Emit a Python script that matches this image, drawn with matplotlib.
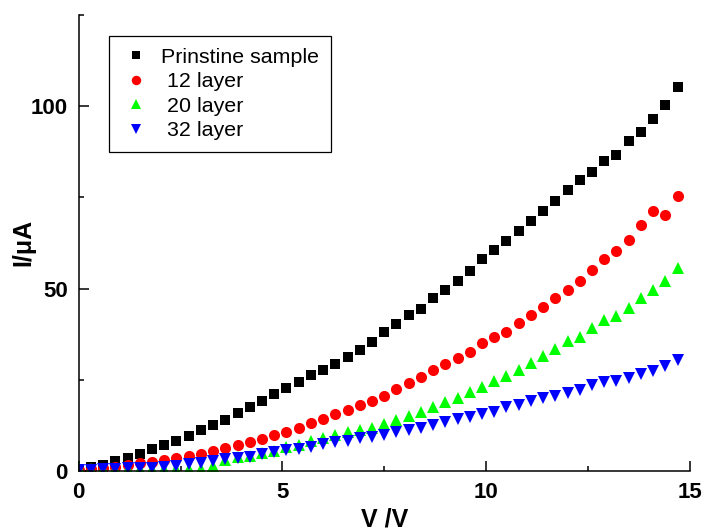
import numpy as np
import matplotlib
matplotlib.use('Agg')
import matplotlib.pyplot as plt
from matplotlib.ticker import MultipleLocator

# bias voltage (V), swept in 0.3 V steps
V = np.round(np.arange(0, 14.75, 0.3), 1)

# current (uA) for each sample
I_pristine = [0.3, 1.2, 1.7, 2.7, 3.6, 4.7, 6.0, 7.1, 8.3, 9.7,
              11.3, 12.6, 14.1, 15.9, 17.5, 19.1, 21.0, 22.8, 24.4, 26.2,
              27.6, 29.4, 31.2, 33.2, 35.4, 38.2, 40.3, 42.8, 44.5, 47.3,
              49.5, 52.0, 54.9, 58.0, 60.5, 63.1, 65.9, 68.5, 71.3, 74.0,
              77.1, 79.8, 81.9, 84.9, 86.7, 90.3, 92.8, 96.4, 100.3, 105.1]
I_12 = [0.2, 0.5, 0.9, 1.2, 1.6, 2.1, 2.6, 3.0, 3.6, 4.1,
        4.7, 5.5, 6.3, 7.1, 8.0, 8.8, 9.8, 10.8, 11.9, 13.2,
        14.2, 15.5, 16.6, 18.0, 19.1, 20.6, 22.4, 24.1, 25.8, 27.7,
        29.3, 30.9, 32.6, 35.2, 36.7, 38.1, 40.6, 42.8, 45.0, 47.3,
        49.5, 52.1, 55.1, 58.2, 60.4, 63.3, 67.4, 71.2, 70.2, 75.3]
I_20 = [0.8, 0.6, 0.6, 0.6, 0.5, 0.5, 0.5, 0.5, 0.5, 0.5,
        0.6, 1.5, 3.1, 3.9, 4.2, 4.9, 5.6, 6.5, 7.2, 8.2,
        9.0, 9.9, 10.6, 11.3, 11.8, 12.9, 14.1, 15.1, 16.1, 17.5,
        18.8, 20.1, 21.7, 23.0, 24.8, 26.1, 27.7, 29.6, 31.6, 33.5,
        35.5, 36.7, 39.2, 41.3, 42.6, 44.7, 47.3, 49.5, 52.0, 55.7]
I_32 = [0.3, 0.4, 0.5, 0.6, 0.7, 0.8, 0.9, 1.2, 1.4, 1.8,
        2.3, 2.7, 3.2, 3.5, 3.9, 4.7, 5.2, 5.8, 6.1, 6.7,
        7.4, 7.9, 8.3, 9.0, 9.4, 10.0, 10.8, 11.3, 11.9, 12.6,
        13.4, 14.2, 14.9, 15.7, 16.1, 17.5, 18.1, 19.3, 20.0, 20.6,
        21.5, 22.3, 23.7, 24.4, 24.8, 25.5, 26.6, 27.3, 28.8, 30.5]

labels = ['Prinstine sample', ' 12 layer', ' 20 layer', ' 32 layer']

plt.rcParams['font.family'] = ['Liberation Sans', 'DejaVu Sans']

fig = plt.figure(figsize=(7.06, 5.31), dpi=100)
ax = fig.add_axes([0.1115, 0.113, 0.8655, 0.859])

ax.plot(V, I_pristine, 's', color='k', markersize=6.6, markeredgewidth=0, label=labels[0])
ax.plot(V, I_12, 'o', color='#ff0000', markersize=8, markeredgewidth=0, label=labels[1])
ax.plot(V, I_20, '^', color='#00ff00', markersize=8.5, markeredgewidth=0, label=labels[2])
ax.plot(V, I_32, 'v', color='#0000ff', markersize=8.5, markeredgewidth=0, label=labels[3])

ax.set_xlim(0, 15)
ax.set_ylim(0, 125)
ax.xaxis.set_major_locator(MultipleLocator(5))
ax.xaxis.set_minor_locator(MultipleLocator(2.5))
ax.yaxis.set_major_locator(MultipleLocator(50))
ax.yaxis.set_minor_locator(MultipleLocator(25))

# only left and bottom axes, ticks pointing inwards
for side in ['top', 'right']:
    ax.spines[side].set_visible(False)
for side in ['left', 'bottom']:
    ax.spines[side].set_linewidth(1.1)
ax.tick_params(which='major', direction='in', length=7, width=1.1, pad=8, labelsize=16)
ax.tick_params(which='minor', direction='in', length=3.5, width=1.1)
for lab in ax.get_xticklabels() + ax.get_yticklabels():
    lab.set_fontweight('bold')

ax.set_xlabel('V /V', fontsize=18, fontweight='bold', labelpad=3)
ax.set_ylabel('I/\u03bcA', fontsize=18, fontweight='bold')
ax.yaxis.set_label_coords(-0.071, 0.5)

leg = ax.legend(loc='upper left', bbox_to_anchor=(0.049, 0.954), borderaxespad=0,
                fontsize=15.4, frameon=True, fancybox=False, framealpha=1,
                edgecolor='k', markerscale=0.85, handlelength=1.45,
                handletextpad=0.44, labelspacing=0.26, borderpad=0.55)
leg.get_frame().set_linewidth(0.9)

fig.savefig('out.png', dpi=100)
